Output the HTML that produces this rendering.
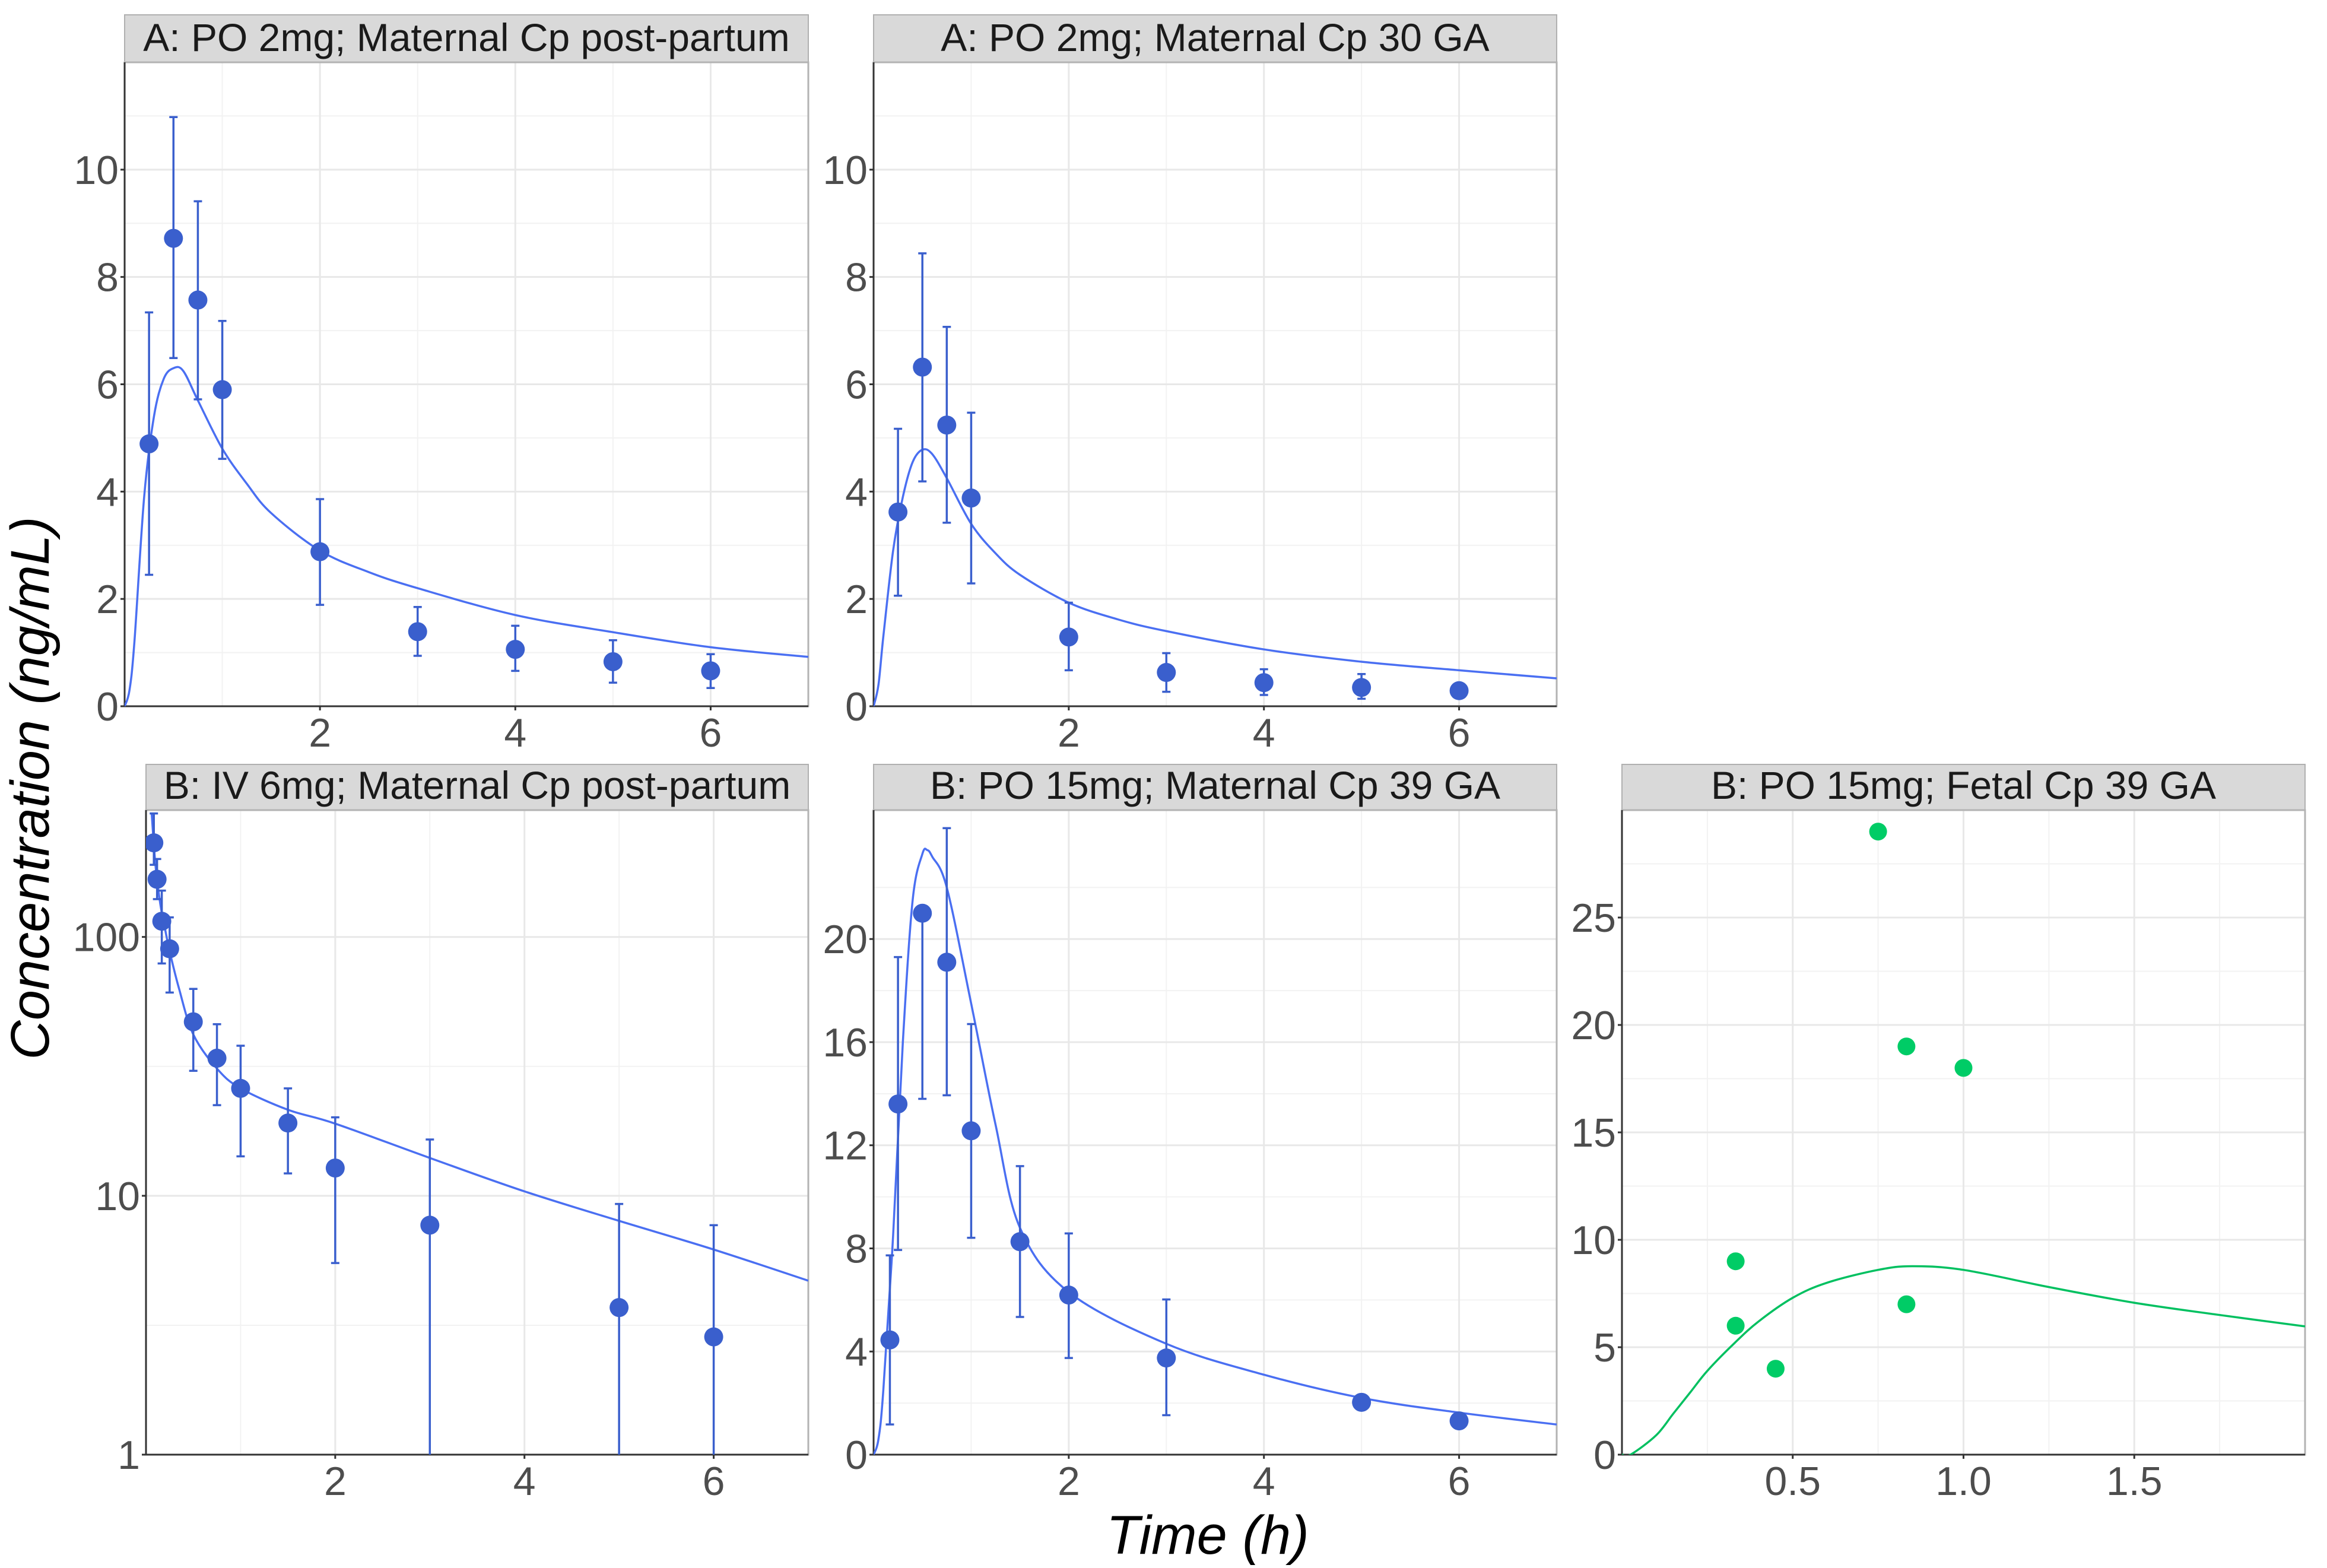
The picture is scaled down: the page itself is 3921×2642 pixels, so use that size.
<!DOCTYPE html>
<html><head><meta charset="utf-8"><style>
html,body{margin:0;padding:0;background:#fff}
svg{display:block}
text{font-family:"Liberation Sans",Arial,sans-serif}
</style></head><body>
<svg id="chart" xmlns="http://www.w3.org/2000/svg" width="3921" height="2642" viewBox="0 0 3921 2642">
<text x="0" y="0" transform="translate(82,1328) rotate(-90)" text-anchor="middle" font-size="92" font-style="italic" fill="#000">Concentration (ng/mL)</text>
<text x="2035" y="2618" text-anchor="middle" font-size="92" font-style="italic" fill="#000">Time (h)</text>
</svg>
<script>
// ---------- Panel A1: PO 2mg maternal post-partum ----------
const a1Times = [0.25,0.5,0.75,1,2,3,4,5,6];
const a1Values = [4.89,8.72,7.57,5.9,2.88,1.39,1.06,0.83,0.66];
const a1Hi = [7.34,10.98,9.41,7.18,3.86,1.85,1.50,1.23,0.97];
const a1Lo = [2.45,6.49,5.72,4.61,1.89,0.94,0.66,0.44,0.34];
const a1CurveT = [0,0.05,0.1,0.2,0.3,0.4,0.5,0.6,0.75,1,1.25,1.5,2,2.5,3,4,5,6,7];
const a1CurveV = [0,0.3,1.2,3.9,5.4,6.1,6.3,6.25,5.7,4.8,4.15,3.6,2.9,2.5,2.2,1.7,1.38,1.1,0.92];
// ---------- Panel A2: PO 2mg maternal 30 GA ----------
const a2Times = [0.25,0.5,0.75,1,2,3,4,5,6];
const a2Values = [3.62,6.32,5.24,3.88,1.29,0.63,0.44,0.35,0.29];
const a2Hi = [5.17,8.44,7.07,5.47,1.93,0.99,0.69,0.6,0.32];
const a2Lo = [2.06,4.19,3.42,2.29,0.67,0.27,0.21,0.14,0.26];
const a2CurveT = [0,0.05,0.1,0.2,0.3,0.4,0.5,0.6,0.75,1,1.25,1.5,2,2.5,3,4,5,6,7];
const a2CurveV = [0,0.4,1.3,2.9,3.9,4.55,4.78,4.7,4.25,3.4,2.85,2.45,1.93,1.62,1.4,1.06,0.83,0.67,0.52];
// ---------- Panel B1: IV 6mg maternal post-partum (log) ----------
const b1Times = [0.083,0.117,0.167,0.25,0.5,0.75,1,1.5,2,3,5,6];
const b1Values = [231,167,115,90,47,34,26,19.1,12.8,7.7,3.7,2.85];
const b1Hi = [300,200,151,119,63,46,38,26,20.1,16.5,9.3,7.7];
const b1Lo = [190,140,79,61,30.4,22.4,14.2,12.2,5.5,0.5,0.5,0.5];
const b1CurveT = [0.06,0.1,0.15,0.2,0.25,0.35,0.5,0.75,1,1.5,2,3,4,5,6,7];
const b1CurveV = [300,190,135,108,88,63,42,31,26,21.5,19,14,10.4,8,6.2,4.7];
// ---------- Panel B2: PO 15mg maternal 39 GA ----------
const b2Times = [0.167,0.25,0.5,0.75,1,1.5,2,3,5,6];
const b2Values = [4.45,13.6,21.0,19.1,12.56,8.26,6.19,3.75,2.03,1.31];
const b2Hi = [7.73,19.3,21.0,24.3,16.7,11.19,8.58,6.02,2.03,1.31];
const b2Lo = [1.17,7.94,13.8,13.94,8.41,5.34,3.75,1.53,2.03,1.31];
const b2CurveT = [0,0.05,0.1,0.2,0.3,0.4,0.5,0.55,0.6,0.75,1,1.25,1.5,2,3,4,5,6,7];
const b2CurveV = [0,0.6,2.5,8.5,16,21.5,23.3,23.45,23.2,22,17.5,12.8,8.8,6.3,4.3,3.1,2.2,1.63,1.17];
// ---------- Panel B3: PO 15mg fetal 39 GA ----------
const b3Times = [0.333,0.333,0.45,0.75,0.833,1.0,0.833];
const b3Values = [9,6,4,29,19,18,7];
const b3CurveT = [0,0.025,0.1,0.15,0.2,0.25,0.33,0.4,0.5,0.6,0.75,0.85,1,1.25,1.5,1.75,2];
const b3CurveV = [0,0,0.9,1.9,2.9,3.9,5.2,6.2,7.3,8.0,8.6,8.77,8.6,7.8,7.07,6.5,5.97];

const NS = "http://www.w3.org/2000/svg";
const svg = document.getElementById('chart');
function mk(tag, attrs, parent){ const e=document.createElementNS(NS,tag); for(const k in attrs) e.setAttribute(k,attrs[k]); (parent||svg).appendChild(e); return e; }

function smoothPath(pts){
  let d = 'M'+pts[0][0].toFixed(1)+','+pts[0][1].toFixed(1);
  for(let i=0;i<pts.length-1;i++){
    const p0=pts[Math.max(0,i-1)], p1=pts[i], p2=pts[i+1], p3=pts[Math.min(pts.length-1,i+2)];
    const c1x=p1[0]+(p2[0]-p0[0])/6, c1y=p1[1]+(p2[1]-p0[1])/6;
    const c2x=p2[0]-(p3[0]-p1[0])/6, c2y=p2[1]-(p3[1]-p1[1])/6;
    d+=' C'+c1x.toFixed(1)+','+c1y.toFixed(1)+' '+c2x.toFixed(1)+','+c2y.toFixed(1)+' '+p2[0].toFixed(1)+','+p2[1].toFixed(1);
  }
  return d;
}

let clipId = 0;
function drawPanel(c){
  const g = mk('g',{});
  
  
  const L=c.left,R=c.right,T=c.top,B=c.bottom;
  const sx = v => L + (v - c.xmin)/(c.xmax - c.xmin)*(R-L);
  const sy = c.log ? (v => B - (Math.log10(v) - Math.log10(c.ymin))/(Math.log10(c.ymax)-Math.log10(c.ymin))*(B-T))
                   : (v => B - (v - c.ymin)/(c.ymax - c.ymin)*(B-T));
  const strip = mk('rect',{x:L,y:c.stripTop,width:R-L,height:T-c.stripTop,fill:'#d9d9d9',stroke:'#b0b0b0','stroke-width':2},g);
  
  
  const st = mk('text',{x:(L+R)/2,y:T-19,'text-anchor':'middle','font-size':66,fill:'#1a1a1a'},g);
  st.textContent = c.title;
  
  
  c.yMinor.forEach(v=>{ mk('line',{x1:L,x2:R,y1:sy(v),y2:sy(v),stroke:'#f2f2f2','stroke-width':2},g); });
  c.xMinor.forEach(v=>{ mk('line',{x1:sx(v),x2:sx(v),y1:T,y2:B,stroke:'#f2f2f2','stroke-width':2},g); });
  c.yMajor.forEach(v=>{ mk('line',{x1:L,x2:R,y1:sy(v),y2:sy(v),stroke:'#e8e8e8','stroke-width':3},g); });
  c.xMajor.forEach(v=>{ mk('line',{x1:sx(v),x2:sx(v),y1:T,y2:B,stroke:'#e8e8e8','stroke-width':3},g); });
  mk('rect',{x:L,y:T,width:R-L,height:B-T,fill:'none',stroke:'#b3b3b3','stroke-width':3},g);
  mk('line',{x1:L,x2:L,y1:T,y2:B,stroke:'#333','stroke-width':3},g);
  mk('line',{x1:L,x2:R,y1:B,y2:B,stroke:'#333','stroke-width':3},g);
  c.yMajor.forEach((v,i)=>{
    mk('line',{x1:L-7,x2:L,y1:sy(v),y2:sy(v),stroke:'#333','stroke-width':3},g);
    const t = mk('text',{x:L-10,y:sy(v)+24,'text-anchor':'end','font-size':68,fill:'#4d4d4d'},g);
    t.textContent = c.yLabels[i];
    
    
  });
  c.xMajor.forEach((v,i)=>{
    mk('line',{x1:sx(v),x2:sx(v),y1:B,y2:B+7,stroke:'#333','stroke-width':3},g);
    const t = mk('text',{x:sx(v),y:B+68,'text-anchor':'middle','font-size':68,fill:'#4d4d4d'},g);
    t.textContent = c.xLabels[i];
    
    
  });
  const cid = 'clip'+(clipId++);
  const cp = mk('clipPath',{id:cid},g);
  mk('rect',{x:L,y:T,width:R-L,height:B-T},cp);
  const dg = mk('g',{'clip-path':'url(#'+cid+')'},g);
  const pts = c.curveT.map((t,i)=>[sx(t), sy(c.curveV[i])]);
  const path = mk('path',{d:smoothPath(pts),fill:'none',stroke:c.lineColor,'stroke-width':3.5},dg);
  
  
  if(c.hi){
    c.times.forEach((t,i)=>{
      if(Math.abs(c.hi[i]-c.lo[i])<1e-9) return;
      const x=sx(t);
      const eb = mk('path',{d:'M'+x+','+sy(c.hi[i])+'V'+sy(c.lo[i])+'M'+(x-7)+','+sy(c.hi[i])+'H'+(x+7)+'M'+(x-7)+','+sy(c.lo[i])+'H'+(x+7),stroke:c.pointColor,'stroke-width':3.5,fill:'none'},dg);
      
      
    });
  }
  c.times.forEach((t,i)=>{
    const p = mk('circle',{cx:sx(t),cy:sy(c.values[i]),r:c.r,fill:c.pointColor},dg);
    
    
  });
}

const rowA = {stripTop:25, top:105, bottom:1190};
const rowB = {stripTop:1288, top:1365, bottom:2451};
const blue='#3a5fcd', blueLine='#4a6ff2';

drawPanel(Object.assign({name:'panel-a-po2mg-postpartum',title:'A: PO 2mg; Maternal Cp post-partum',left:210,right:1362,
  xmin:0,xmax:7,ymin:0,ymax:12,xMajor:[2,4,6],xLabels:['2','4','6'],xMinor:[1,3,5,7],
  yMajor:[0,2,4,6,8,10],yLabels:['0','2','4','6','8','10'],yMinor:[1,3,5,7,9,11],
  times:a1Times,values:a1Values,hi:a1Hi,lo:a1Lo,curveT:a1CurveT,curveV:a1CurveV,pointColor:blue,lineColor:blueLine,r:16},rowA));
drawPanel(Object.assign({name:'panel-a-po2mg-30ga',title:'A: PO 2mg; Maternal Cp 30 GA',left:1472,right:2623,
  xmin:0,xmax:7,ymin:0,ymax:12,xMajor:[2,4,6],xLabels:['2','4','6'],xMinor:[1,3,5,7],
  yMajor:[0,2,4,6,8,10],yLabels:['0','2','4','6','8','10'],yMinor:[1,3,5,7,9,11],
  times:a2Times,values:a2Values,hi:a2Hi,lo:a2Lo,curveT:a2CurveT,curveV:a2CurveV,pointColor:blue,lineColor:blueLine,r:16},rowA));
drawPanel(Object.assign({name:'panel-b-iv6mg-postpartum',title:'B: IV 6mg; Maternal Cp post-partum',left:246,right:1362,log:true,
  xmin:0,xmax:7,ymin:1,ymax:309,xMajor:[2,4,6],xLabels:['2','4','6'],xMinor:[1,3,5,7],
  yMajor:[1,10,100],yLabels:['1','10','100'],yMinor:[3.162,31.62],
  times:b1Times,values:b1Values,hi:b1Hi,lo:b1Lo,curveT:b1CurveT,curveV:b1CurveV,pointColor:blue,lineColor:blueLine,r:16},rowB));
drawPanel(Object.assign({name:'panel-b-po15mg-39ga',title:'B: PO 15mg; Maternal Cp 39 GA',left:1472,right:2623,
  xmin:0,xmax:7,ymin:0,ymax:25,xMajor:[2,4,6],xLabels:['2','4','6'],xMinor:[1,3,5,7],
  yMajor:[0,4,8,12,16,20],yLabels:['0','4','8','12','16','20'],yMinor:[2,6,10,14,18,22],
  times:b2Times,values:b2Values,hi:b2Hi,lo:b2Lo,curveT:b2CurveT,curveV:b2CurveV,pointColor:blue,lineColor:blueLine,r:16},rowB));
drawPanel(Object.assign({name:'panel-b-fetal-39ga',title:'B: PO 15mg; Fetal Cp 39 GA',left:2733,right:3884,
  xmin:0,xmax:2,ymin:0,ymax:30,xMajor:[0.5,1,1.5],xLabels:['0.5','1.0','1.5'],xMinor:[0.25,0.75,1.25,1.75],
  yMajor:[0,5,10,15,20,25],yLabels:['0','5','10','15','20','25'],yMinor:[2.5,7.5,12.5,17.5,22.5,27.5],
  times:b3Times,values:b3Values,hi:null,lo:null,curveT:b3CurveT,curveV:b3CurveV,pointColor:'#00cc66',lineColor:'#00c060',r:15},rowB));
</script>
</body></html>
